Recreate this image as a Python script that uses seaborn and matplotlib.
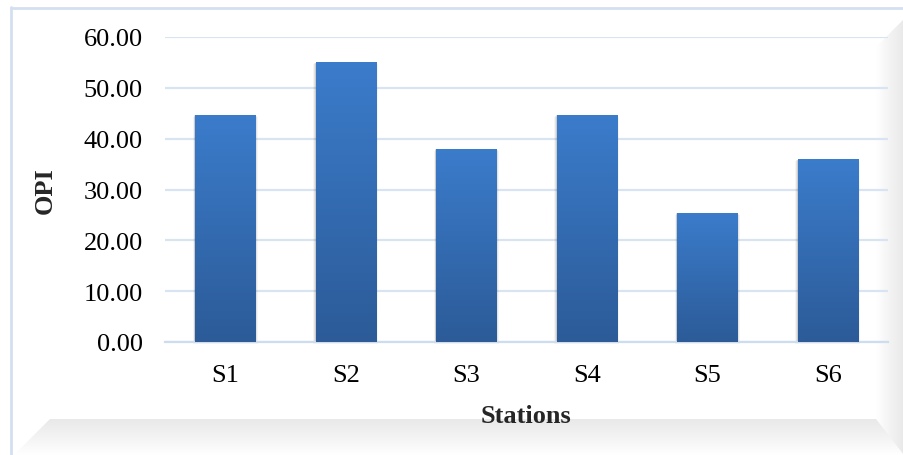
import numpy as np
import pandas as pd
import matplotlib
matplotlib.use("Agg")
import matplotlib.pyplot as plt
import seaborn as sns
from matplotlib.colors import LinearSegmentedColormap
from matplotlib.patches import Polygon, Rectangle

stations = ["S1", "S2", "S3", "S4", "S5", "S6"]
opi = [44.7, 55.1, 38.0, 44.7, 25.4, 36.0]
yticks = [0, 10, 20, 30, 40, 50, 60]
ytick_labels = ["0.00", "10.00", "20.00", "30.00", "40.00", "50.00", "60.00"]

sns.set_theme(style="white")
plt.rcParams["font.family"] = ["Liberation Serif", "DejaVu Serif"]

W, H = 904, 456
fig = plt.figure(figsize=(W / 100, H / 100), dpi=100)
fig.patch.set_facecolor("white")

# background frame in pixel coordinates
bg = fig.add_axes([0, 0, 1, 1], zorder=0)
bg.set_xlim(0, W)
bg.set_ylim(H, 0)
bg.axis("off")
grey = LinearSegmentedColormap.from_list("g", ["#ffffff", "#f3f3f3", "#e9e9e9"])
grad_v = np.linspace(0, 1, 64).reshape(-1, 1)
im = bg.imshow(grad_v, extent=[0, W, 420, H], origin="upper", cmap=grey, aspect="auto", zorder=1)
im.set_clip_path(Polygon([(14, H), (50, 420), (W, 420), (W, H)], closed=True, transform=bg.transData))
grad_h = np.linspace(0, 1, 64).reshape(1, -1)
im2 = bg.imshow(grad_h, extent=[876, W, H, 0], cmap=grey, aspect="auto", zorder=1)
im2.set_clip_path(Polygon([(876, 48), (W, 20), (W, H), (876, 420)], closed=True, transform=bg.transData))
bg.plot([11, W], [8.5, 8.5], color="#d4e0f0", lw=2, zorder=2)
bg.plot([11.5, 11.5], [8, H], color="#d4e0f0", lw=2, zorder=2)

ax = fig.add_axes([165 / W, 1 - 343 / H, (888 - 165) / W, (343 - 38) / H], zorder=1)
ax.patch.set_alpha(0)
df = pd.DataFrame({"Stations": stations, "OPI": opi})
sns.barplot(data=df, x="Stations", y="OPI", ax=ax, color="#3a78c6", width=0.5,
            saturation=1, zorder=3)
ax.set_ylim(0, 60)
ax.set_xlim(-0.5, len(stations) - 0.5)
ax.set_yticks(yticks)
ax.set_yticklabels(ytick_labels)
ax.grid(axis="y", color="#d9e4f2", lw=1.6, zorder=0)
ax.set_axisbelow(True)
for s in ["top", "right", "left"]:
    ax.spines[s].set_visible(False)
ax.spines["bottom"].set_color("#cddcee")
ax.spines["bottom"].set_linewidth(1.6)
ax.tick_params(axis="both", length=0, labelsize=19, colors="black")
ax.tick_params(axis="y", pad=16)
ax.tick_params(axis="x", pad=16)
ax.set_xlabel("Stations", fontsize=19, fontweight="bold", labelpad=13)
ax.set_ylabel("OPI", fontsize=19, fontweight="bold", labelpad=19)

blue = LinearSegmentedColormap.from_list("b", ["#2c5b98", "#3b7ccb"])
grad = np.linspace(0, 1, 128).reshape(-1, 1)
for p in ax.patches:
    x0, y0 = p.get_x(), p.get_y()
    w, h = p.get_width(), p.get_height()
    # soft shadow
    for k, a in enumerate([0.10, 0.07, 0.04]):
        ax.add_patch(Rectangle((x0 - 0.006 * (k + 1), y0 - 0.12 * (k + 1)), w + 0.012 * (k + 1),
                               h - 0.05 * k, facecolor="black", alpha=a, lw=0, zorder=2,
                               clip_on=False))
    img = ax.imshow(grad, extent=[x0, x0 + w, y0, y0 + h], origin="lower", cmap=blue,
                    aspect="auto", zorder=4)
    img.set_clip_path(p)
    p.set_edgecolor("none")
ax.set_xlim(-0.5, len(stations) - 0.5)
ax.set_ylim(0, 60)

fig.savefig("out.png", dpi=100)
